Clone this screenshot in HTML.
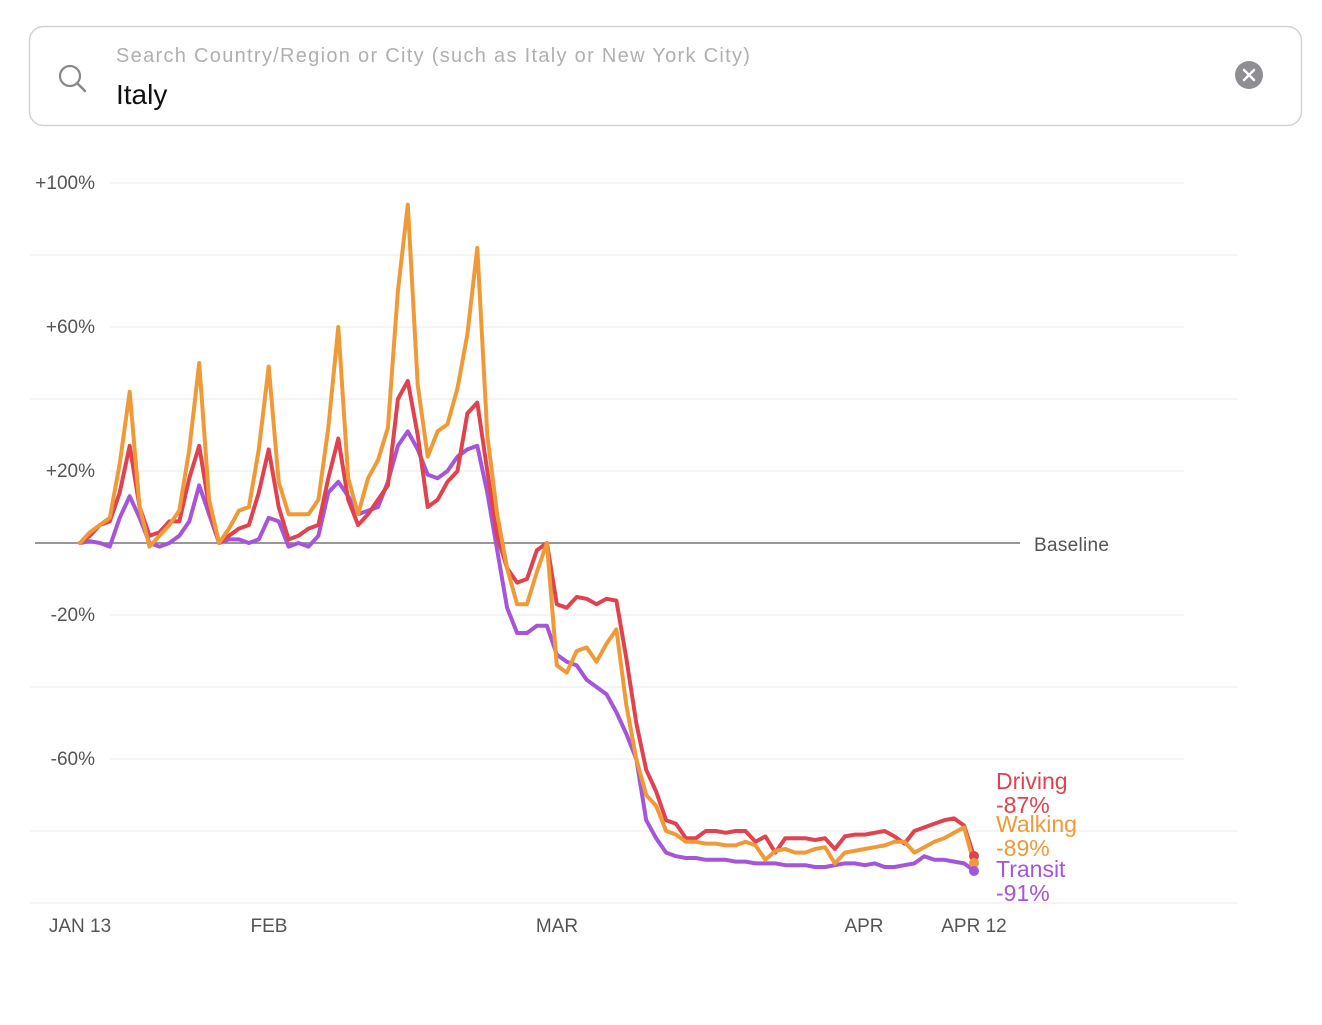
<!DOCTYPE html>
<html><head><meta charset="utf-8"><style>
body{margin:0;background:#fff;width:1322px;height:1020px;overflow:hidden;font-family:"Liberation Sans",sans-serif}
</style></head><body>
<svg width="1322" height="1020" xmlns="http://www.w3.org/2000/svg" font-family="Liberation Sans, sans-serif">
<rect x="29.5" y="26.5" width="1272" height="99" rx="14" fill="#fff" stroke="#d2d2d2" stroke-width="1.5"/>
<circle cx="70" cy="76" r="10" fill="none" stroke="#888" stroke-width="2.2"/>
<line x1="77" y1="83" x2="85" y2="91" stroke="#888" stroke-width="2.5" stroke-linecap="round"/>
<text x="116" y="62" font-size="20" letter-spacing="1.3" fill="#b0b0b0">Search Country/Region or City (such as Italy or New York City)</text>
<text x="116" y="104" font-size="28" fill="#111">Italy</text>
<circle cx="1249" cy="75" r="14" fill="#8e8e93"/>
<path d="M1244 70 L1254 80 M1254 70 L1244 80" stroke="#fff" stroke-width="2.5" stroke-linecap="round"/>
<g stroke="#e8e8e8" stroke-width="1">
<line x1="110" y1="183" x2="1184" y2="183"/><line x1="30" y1="255" x2="1238" y2="255"/>
<line x1="110" y1="327" x2="1184" y2="327"/><line x1="30" y1="399" x2="1238" y2="399"/>
<line x1="110" y1="471" x2="1184" y2="471"/>
<line x1="110" y1="615" x2="1184" y2="615"/><line x1="30" y1="687" x2="1238" y2="687"/>
<line x1="110" y1="759" x2="1184" y2="759"/><line x1="30" y1="831" x2="1238" y2="831"/>
<line x1="30" y1="903" x2="1238" y2="903"/>
</g>
<g font-size="19" fill="#555" text-anchor="end">
<text x="95" y="189">+100%</text><text x="95" y="333">+60%</text><text x="95" y="477">+20%</text>
<text x="95" y="621">-20%</text><text x="95" y="765">-60%</text>
</g>
<line x1="35" y1="543" x2="1020" y2="543" stroke="#777" stroke-width="1.5"/>
<text x="1034" y="551" font-size="19" letter-spacing="0.3" fill="#555">Baseline</text>
<g font-size="19" fill="#555" text-anchor="middle">
<text x="80" y="932">JAN 13</text><text x="269" y="932">FEB</text><text x="557" y="932">MAR</text><text x="864" y="932">APR</text><text x="974" y="932">APR 12</text>
</g>
<g id="lines" fill="none" stroke-width="4" stroke-linejoin="round" stroke-linecap="round"></g>
<circle cx="974" cy="856" r="5" fill="#e0424f"/>
<circle cx="974" cy="863" r="5" fill="#f09a37"/>
<circle cx="974" cy="871" r="5" fill="#a455d8"/>
<g font-size="23">
<text x="996" y="789" fill="#e0424f">Driving</text><text x="996" y="813" fill="#e0424f">-87%</text>
<text x="996" y="832" fill="#f09a37">Walking</text><text x="996" y="856" fill="#f09a37">-89%</text>
<text x="996" y="877" fill="#a455d8">Transit</text><text x="996" y="901" fill="#a455d8">-91%</text>
</g>
</svg>
<script>
var T=[0,0.5,0,-1,7,13,7,0,-1,0,2,6,16,8,0,1,1,0,1,7,6,-1,0,-1,2,14,17,13,8,9,10,17,27,31,26,19,18,20,24,26,27,14,-2,-18,-25,-25,-23,-23,-31,-33,-34,-38,-40,-42,-47,-53,-60,-77,-82,-86,-87,-87.5,-87.5,-88,-88,-88,-88.5,-88.5,-89,-89,-89,-89.5,-89.5,-89.5,-90,-90,-89.5,-89,-89,-89.5,-89,-90,-90,-89.5,-89,-87,-88,-88,-88.5,-89,-91];
var W=[0,3,5,7,22,42,10,-1,2,5,9,26,50,12,0,4,9,10,26,49,17,8,8,8,12,32,60,18,8,18,23,32,70,94,44,24,31,33,43,58,82,30,8,-7,-17,-17,-8,0,-34,-36,-30,-29,-33,-28,-24,-45,-60,-70,-73,-80,-81,-83,-83,-83.5,-83.5,-84,-84,-83,-84,-88,-85.5,-85,-86,-86,-85,-84.5,-89,-86,-85.5,-85,-84.5,-84,-83,-83,-86,-84.5,-83,-82,-80.5,-79,-89];
var D=[0,2,5,6,14,27,10,2,3,6,6,18,27,10,0,2,4,5,14,26,10,1,2,4,5,18,29,12,5,8,12,16,40,45,30,10,12,17,20,36,39,20,2,-7,-11,-10,-2,0,-17,-18,-15,-15.5,-17,-15.5,-16,-32,-50,-63,-69,-77,-78,-82,-82,-80,-80,-80.5,-80,-80,-83,-81.5,-86,-82,-82,-82,-82.5,-82,-85,-81.5,-81,-81,-80.5,-80,-81.5,-83.5,-80,-79,-78,-77,-76.5,-78.5,-87];
function p(a,c){var s=a.map(function(v,i){return (80+i*894/90).toFixed(1)+','+(543-v*3.6).toFixed(1)}).join(' ');
var e=document.createElementNS('http://www.w3.org/2000/svg','polyline');e.setAttribute('points',s);e.setAttribute('stroke',c);document.getElementById('lines').appendChild(e);}
p(T,'#a455d8');p(D,'#e0424f');p(W,'#f09a37');
</script>
</body></html>
